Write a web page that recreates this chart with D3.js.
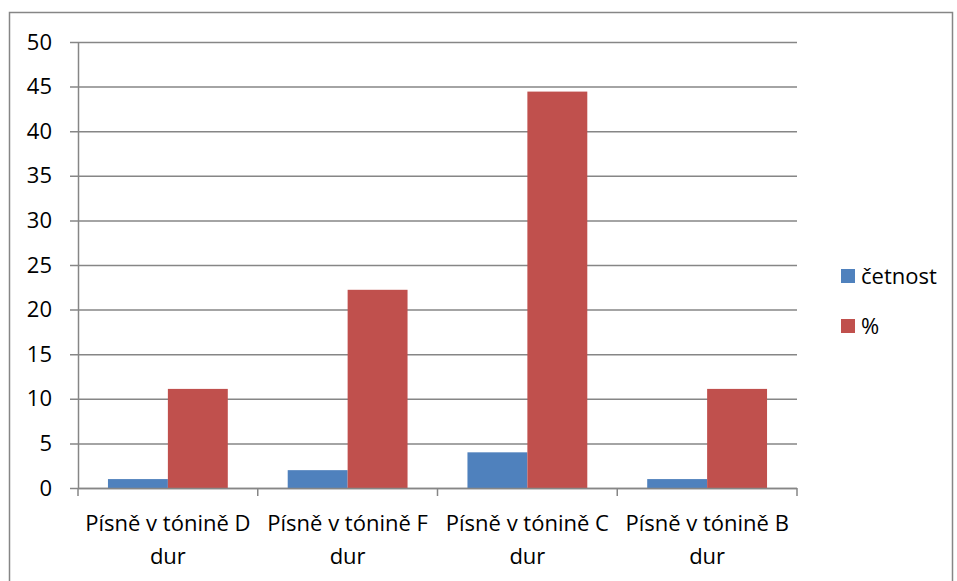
<!DOCTYPE html>
<html><head><meta charset="utf-8">
<script src="https://cdn.jsdelivr.net/npm/d3@7"></script>
<style>body{margin:0;background:#fff}svg{display:block}text{font-family:"Open Sans",sans-serif;fill:#000;font-size:22px}</style>
</head><body><svg id="c" width="957" height="581"></svg>
<script>
const categories = ["Písně v tónině D dur","Písně v tónině F dur","Písně v tónině C dur","Písně v tónině B dur"];
const seriesNames = ["četnost","%"];
const cetnost = [1,2,4,1];
const procenta = [11.11,22.22,44.44,11.11];
const yTicks = [0,5,10,15,20,25,30,35,40,45,50];
const colors = ["#4F81BD","#C0504D"];

const svg = d3.select("#c");
svg.append("rect").attr("x",9.5).attr("y",12.5).attr("width",943).attr("height",600)
  .attr("fill","#fff").attr("stroke","#868686").attr("stroke-width",1.5);

const L=78, R=797, T=42, B=488;
const x = d3.scaleBand().domain(categories).range([L,R]).paddingInner(0).paddingOuter(0);
const y = d3.scaleLinear().domain([0,50]).range([B,T]);
const xs = d3.scaleBand().domain(seriesNames).range([0,x.bandwidth()]).paddingInner(0).paddingOuter(0.5);

svg.append("g").selectAll("line").data(yTicks).join("line")
  .attr("x1",L-8).attr("x2",R).attr("y1",d=>y(d)+0.5).attr("y2",d=>y(d)+0.5)
  .attr("stroke","#868686").attr("stroke-width",1.5);

const data = [cetnost, procenta];
categories.forEach((c,i)=>{
  seriesNames.forEach((s,j)=>{
    svg.append("rect").attr("x",x(c)+xs(s)).attr("width",xs.bandwidth())
      .attr("y",y(data[j][i])).attr("height",B-y(data[j][i])).attr("fill",colors[j]);
  });
});

const ya = svg.append("g").attr("transform",`translate(${L},0)`)
  .call(d3.axisLeft(y).tickValues(yTicks).tickSize(0).tickPadding(26));
ya.select(".domain").attr("stroke","#868686").attr("stroke-width",1.5);
ya.selectAll("text").style("font-size","22px").style("font-family","'Open Sans',sans-serif").attr("fill","#000");

const xa = svg.append("g").attr("transform",`translate(0,${B})`);
xa.append("line").attr("x1",L).attr("x2",R).attr("y1",0.5).attr("y2",0.5).attr("stroke","#868686").attr("stroke-width",1.5);
const edges = categories.map(c=>x(c)).concat([R]);
xa.selectAll("line.t").data(edges).join("line").attr("class","t")
  .attr("x1",d=>d).attr("x2",d=>d).attr("y1",0).attr("y2",8).attr("stroke","#868686").attr("stroke-width",1.5);
categories.forEach(c=>{
  const parts = [c.replace(/ dur$/,""),"dur"];
  const t = xa.append("text").attr("text-anchor","middle").style("font-size","22px");
  parts.forEach((p,k)=>t.append("tspan").attr("x",x(c)+x.bandwidth()/2).attr("y",k===0?43:76).text(p));
});

const lg = svg.append("g");
seriesNames.forEach((s,j)=>{
  const yy = 276 + j*50;
  lg.append("rect").attr("x",841).attr("y",yy-7).attr("width",14).attr("height",14).attr("fill",colors[j]);
  lg.append("text").attr("x",861).attr("y",yy).attr("dy","0.35em").style("font-size","22px").text(s);
});
</script></body></html>
